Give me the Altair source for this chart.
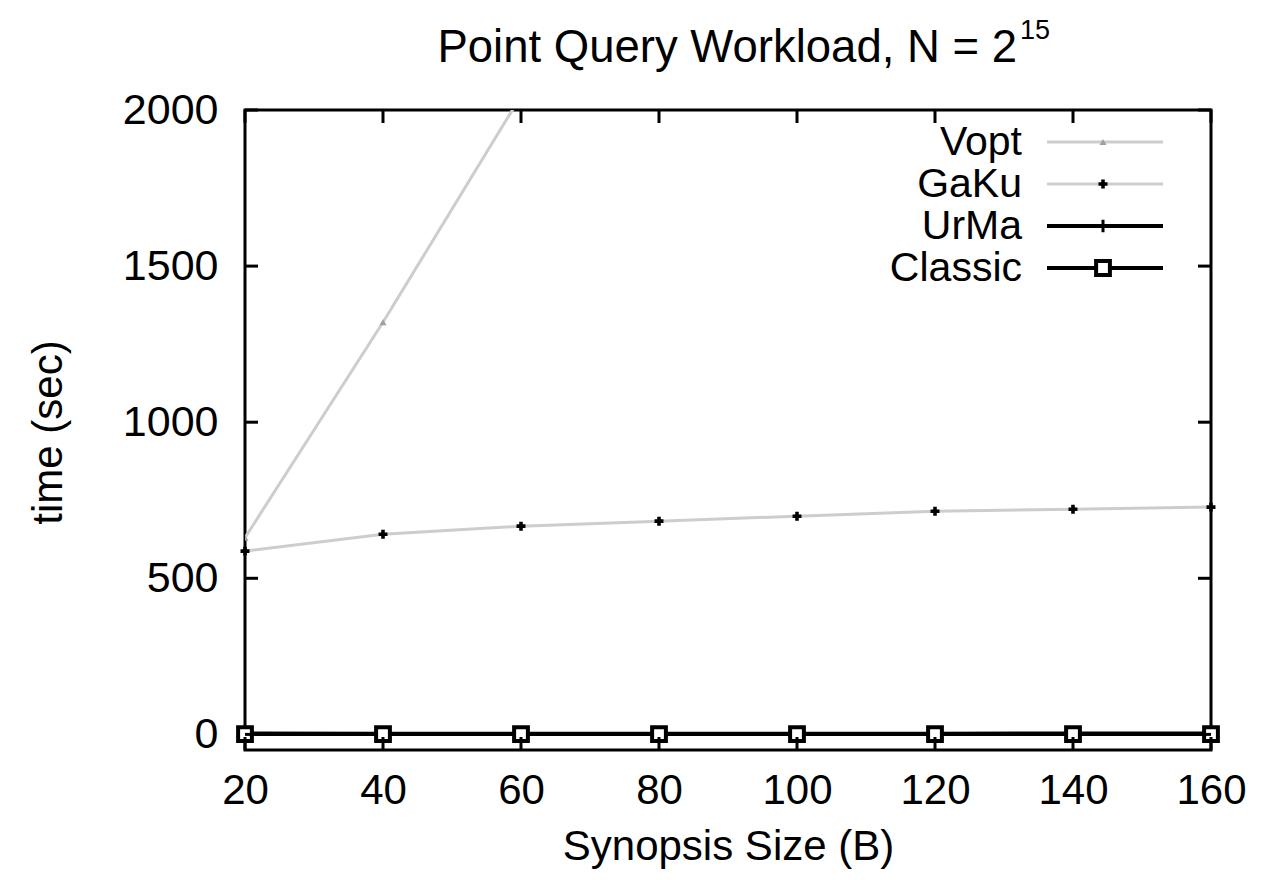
import altair as alt
import pandas as pd

# ---- data ----
sizes = [20, 40, 60, 80, 100, 120, 140, 160]
vopt_sizes = [20, 40, 60]
vopt = [630, 1320, 2045]
gaku = [587, 641, 667, 683, 699, 715, 721, 728]
urma = [3, 2, 2, 2, 2, 2, 3, 3]
classic = [1, 1, 1, 1, 1, 1, 1, 1]

x_ticks = [20, 40, 60, 80, 100, 120, 140, 160]
y_ticks = [0, 500, 1000, 1500, 2000]
series_names = ["Vopt", "GaKu", "UrMa", "Classic"]

FONT = "Liberation Sans"
FS = 42
W, H = 966, 640

xscale = alt.Scale(domain=[20, 160], nice=False, zero=False)
yscale = alt.Scale(domain=[-50, 2000], nice=False, zero=False)

df_vopt = pd.DataFrame({"size": vopt_sizes, "time": vopt})
df_gaku = pd.DataFrame({"size": sizes, "time": gaku})
df_urma = pd.DataFrame({"size": sizes, "time": urma})
df_classic = pd.DataFrame({"size": sizes, "time": classic})

x_enc = alt.X(
    "size:Q", scale=xscale,
    axis=alt.Axis(values=x_ticks, ticks=False, domain=False, grid=False, format="d",
                  labelFont=FONT, labelFontSize=FS, labelColor="black",
                  labelPadding=20, labelFlush=False, labelOverlap=False,
                  title="Synopsis Size (B)", titleFont=FONT, titleFontSize=FS,
                  titleFontWeight="normal", titleColor="black",
                  titleX=W / 2, titleY=109, titleBaseline="alphabetic", titleAlign="center"),
)
y_enc = alt.Y(
    "time:Q", scale=yscale,
    axis=alt.Axis(values=y_ticks, ticks=False, domain=False, grid=False, format="d",
                  labelFont=FONT, labelFontSize=43, labelColor="black",
                  labelPadding=27, labelFlush=False, labelOverlap=False,
                  title="time (sec)", titleFont=FONT, titleFontSize=FS,
                  titleFontWeight="normal", titleColor="black",
                  titleX=-197, titleY=322, titleAngle=-90,
                  titleBaseline="middle", titleAlign="center"),
)

GRAY = "#cdcdcd"
PLUS = "M-1,0H1M0,-1V1"

def xy():
    return dict(x=alt.X("size:Q", scale=xscale), y=alt.Y("time:Q", scale=yscale))

vopt_line = alt.Chart(df_vopt).mark_line(color=GRAY, strokeWidth=3, clip=True).encode(x=x_enc, y=y_enc)
vopt_pts = alt.Chart(df_vopt).mark_point(shape="triangle-up", filled=True, color="#a0a0a0", size=50,
                                         clip=True, opacity=1).encode(**xy())
gaku_line = alt.Chart(df_gaku).mark_line(color=GRAY, strokeWidth=3, clip=True).encode(**xy())
gaku_pts = alt.Chart(df_gaku).mark_point(shape="cross", filled=True, color="black", size=80,
                                         opacity=1).encode(**xy())
urma_line = alt.Chart(df_urma).mark_line(color="black", strokeWidth=4, clip=True).encode(**xy())
urma_pts = alt.Chart(df_urma).mark_point(shape=PLUS, filled=False, color="black", strokeWidth=3, size=160,
                                         opacity=1).encode(**xy())
classic_line = alt.Chart(df_classic).mark_line(color="black", strokeWidth=4, clip=True).encode(**xy())
classic_pts = alt.Chart(df_classic).mark_point(shape="square", filled=True, fill="white", stroke="black",
                                               strokeWidth=4, size=190, opacity=1).encode(**xy())

# inside ticks (gnuplot style, mirrored)
TL = 13
dfx = pd.DataFrame({"v": x_ticks})
dfy = pd.DataFrame({"v": y_ticks})
tick_b = alt.Chart(dfx).mark_rule(color="black", strokeWidth=3).encode(
    x=alt.X("v:Q", scale=xscale), y=alt.value(H), y2=alt.value(H - TL))
tick_t = alt.Chart(dfx).mark_rule(color="black", strokeWidth=3).encode(
    x=alt.X("v:Q", scale=xscale), y=alt.value(0), y2=alt.value(TL))
tick_l = alt.Chart(dfy).mark_rule(color="black", strokeWidth=3).encode(
    y=alt.Y("v:Q", scale=yscale), x=alt.value(0), x2=alt.value(TL))
tick_r = alt.Chart(dfy).mark_rule(color="black", strokeWidth=3).encode(
    y=alt.Y("v:Q", scale=yscale), x=alt.value(W), x2=alt.value(W - TL))

# title (with superscript exponent)
title_main = alt.Chart(pd.DataFrame({"t": ["Point Query Workload, N = 2"]})).mark_text(
    font=FONT, fontSize=45.5, align="right", baseline="alphabetic", color="black").encode(
    text="t:N", x=alt.value(772), y=alt.value(-48))
title_sup = alt.Chart(pd.DataFrame({"t": ["15"]})).mark_text(
    font=FONT, fontSize=27, align="left", baseline="alphabetic", color="black").encode(
    text="t:N", x=alt.value(775), y=alt.value(-71))

# legend (gnuplot style: label on the left, sample on the right)
leg_rows = [32, 74, 116, 158]
LX_TEXT, LX0, LX1, LXM = 777, 802, 918, 858
legend_layers = []
styles = [
    dict(color=GRAY, width=3, shape="triangle-up", filled=True, mcolor="#a0a0a0", size=50, sw=1, fill=None),
    dict(color=GRAY, width=3, shape="cross", filled=True, mcolor="black", size=80, sw=1, fill=None),
    dict(color="black", width=4, shape=PLUS, filled=False, mcolor="black", size=160, sw=3, fill=None),
    dict(color="black", width=4, shape="square", filled=True, mcolor="black", size=190, sw=4, fill="white"),
]
for name, yy, st in zip(series_names, leg_rows, styles):
    d = pd.DataFrame({"t": [name]})
    legend_layers.append(alt.Chart(d).mark_text(font=FONT, fontSize=41, align="right", baseline="middle",
                                                color="black").encode(text="t:N", x=alt.value(LX_TEXT), y=alt.value(yy + 1)))
    legend_layers.append(alt.Chart(d).mark_rule(color=st["color"], strokeWidth=st["width"]).encode(
        x=alt.value(LX0), x2=alt.value(LX1), y=alt.value(yy)))
    if st["fill"] is not None:
        pm = alt.Chart(d).mark_point(shape=st["shape"], filled=True, fill=st["fill"], stroke=st["mcolor"],
                                     strokeWidth=st["sw"], size=st["size"], opacity=1)
    elif st["filled"]:
        pm = alt.Chart(d).mark_point(shape=st["shape"], filled=True, color=st["mcolor"], size=st["size"], opacity=1)
    else:
        pm = alt.Chart(d).mark_point(shape=st["shape"], filled=False, color=st["mcolor"],
                                     strokeWidth=st["sw"], size=st["size"], opacity=1)
    legend_layers.append(pm.encode(x=alt.value(LXM), y=alt.value(yy)))

chart = alt.layer(
    vopt_line, vopt_pts, gaku_line, gaku_pts, urma_line, urma_pts, classic_line, classic_pts,
    tick_b, tick_t, tick_l, tick_r, title_main, title_sup, *legend_layers
).properties(
    width=W, height=H,
    autosize=alt.AutoSizeParams(type="none"),
    padding={"left": 237, "top": 102, "right": 60, "bottom": 122},
).configure(
    background="white",
    view=alt.ViewConfig(stroke="black", strokeWidth=3),
)

chart.save("out.html", embed_options={"renderer": "svg", "actions": False})
